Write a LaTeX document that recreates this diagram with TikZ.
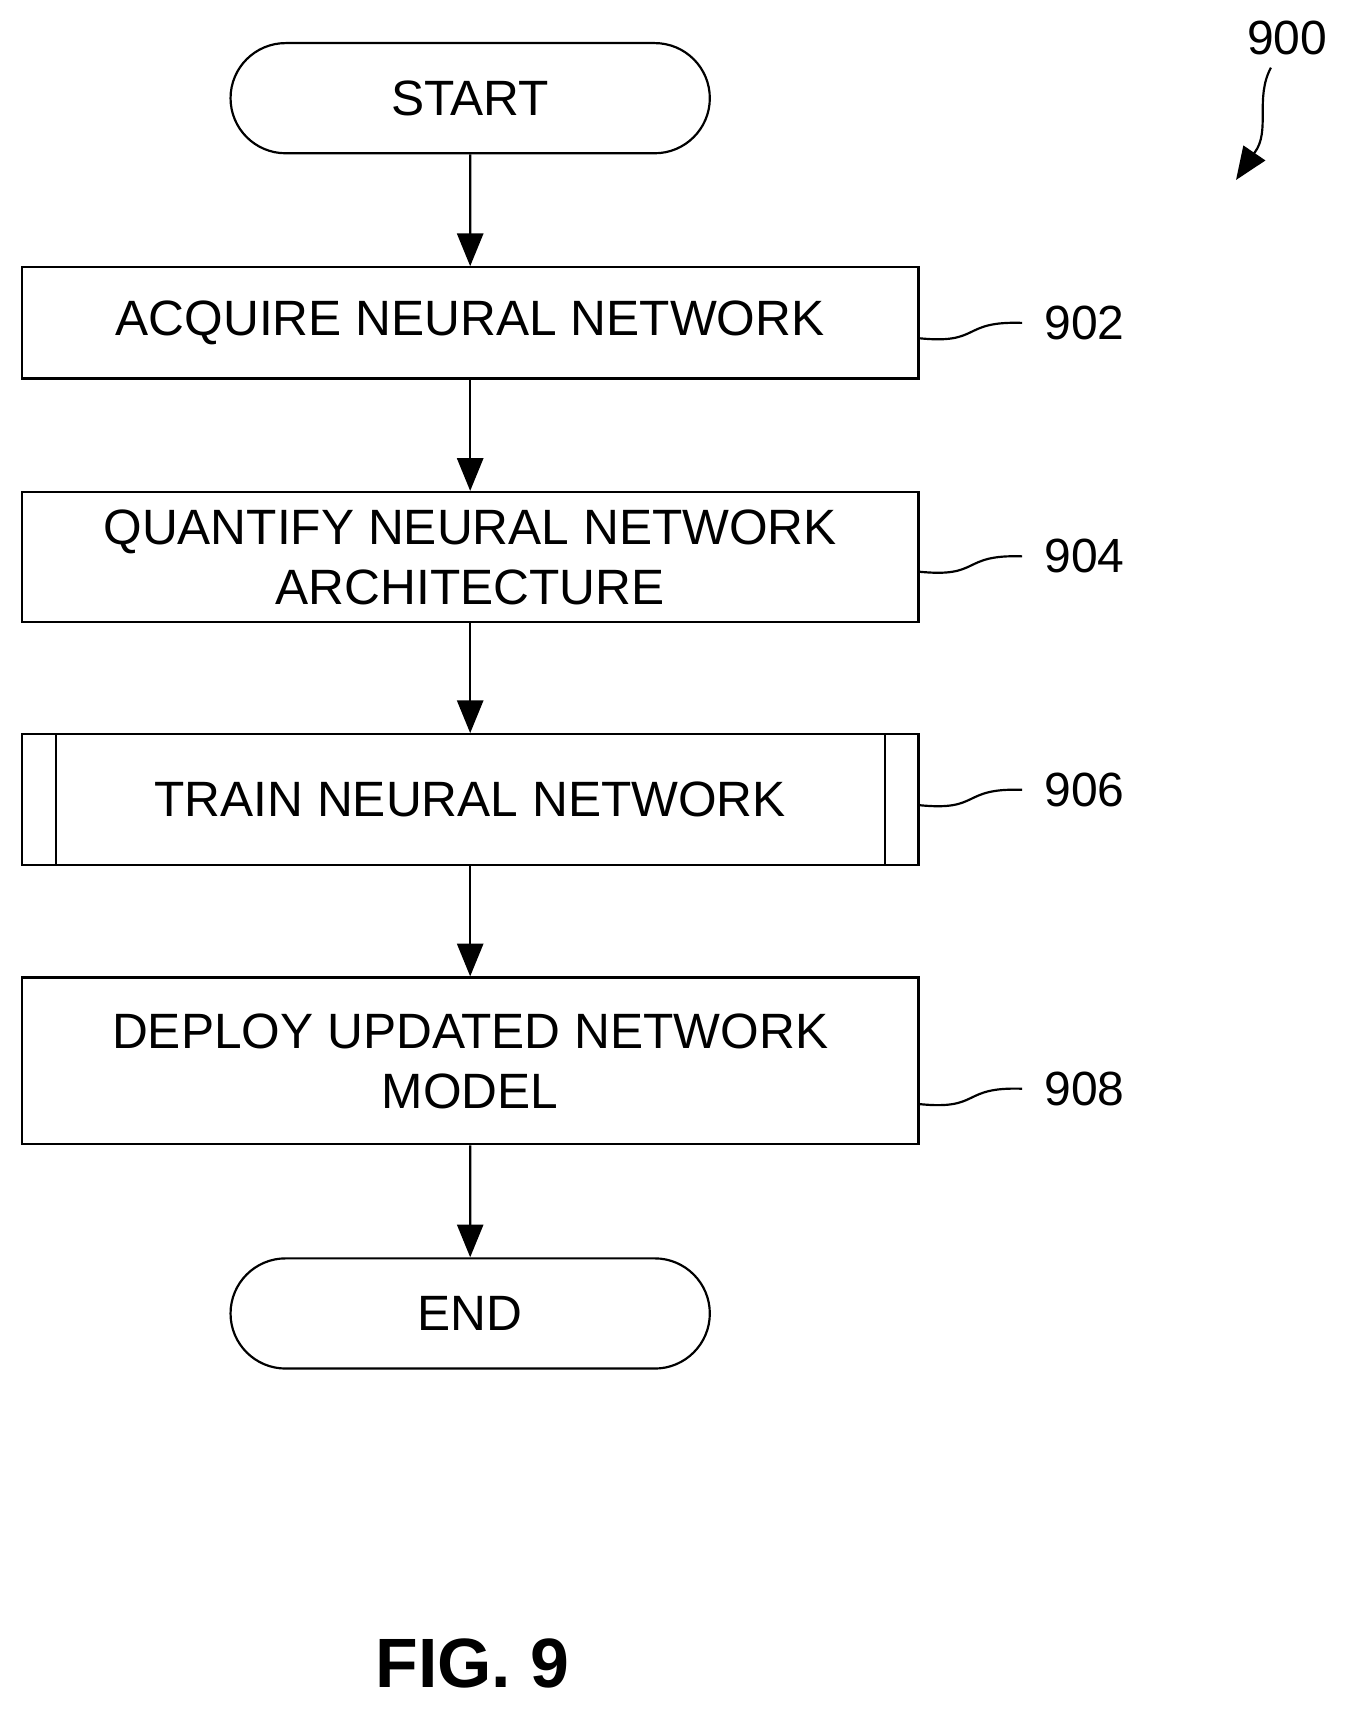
\documentclass[tikz,border=0pt]{standalone}
\usepackage{fontspec}
\setmainfont{Liberation Sans}
\usetikzlibrary{arrows.meta,shapes.misc}
\begin{document}
\begin{tikzpicture}[x=1pt,y=-1pt,
  line width=2pt,
  box/.style={draw,rectangle,minimum width=822pt,inner sep=0pt,align=center,font=\fontsize{45.5}{55}\selectfont},
  term/.style={draw,rounded rectangle,minimum width=446pt,minimum height=101pt,font=\fontsize{45.5}{50}\selectfont},
  lab/.style={font=\fontsize{44}{50}\selectfont},
  arr/.style={-{Triangle[length=30pt,width=24pt]}}]
\useasboundingbox (0,0) rectangle (1240,1573);
\node[term] (start) at (431,90) {START};
\node[box,minimum height=102pt] (a) at (431,296) {ACQUIRE NEURAL NETWORK};
\node[box,minimum height=119pt] (b) at (431,510.5) {QUANTIFY NEURAL NETWORK\\ARCHITECTURE};
\node[box,minimum height=120pt] (c) at (431,733) {TRAIN NEURAL NETWORK};
\draw ([xshift=32pt]c.north west) -- ([xshift=32pt]c.south west);
\draw ([xshift=-32pt]c.north east) -- ([xshift=-32pt]c.south east);
\node[box,minimum height=153pt] (d) at (431,972.5) {DEPLOY UPDATED NETWORK\\MODEL};
\node[term] (end) at (431,1204) {END};
\draw[arr] (start) -- (a);
\draw[arr] (a) -- (b);
\draw[arr] (b) -- (c);
\draw[arr] (c) -- (d);
\draw[arr] (d) -- (end);
\foreach \n/\t/\y in {a/902/296,b/904/510,c/906/724,d/908/998}{
  \node[lab,anchor=west] (l\t) at (953,\y) {\t};
  \draw (842,\y+14) .. controls (900,\y+20) and (880,\y-2) .. ([xshift=-16pt]l\t.west);
}
\node[lab] (n900) at (1180,35) {900};
\coordinate (t900) at (1133,165);
\draw[arr] (1165,62) .. controls (1150,90) and (1165,120) .. (1150,140) -- (t900);
\node[font=\fontsize{64}{70}\selectfont\bfseries] (fig) at (433,1525) {FIG. 9};
\end{tikzpicture}
\end{document}
